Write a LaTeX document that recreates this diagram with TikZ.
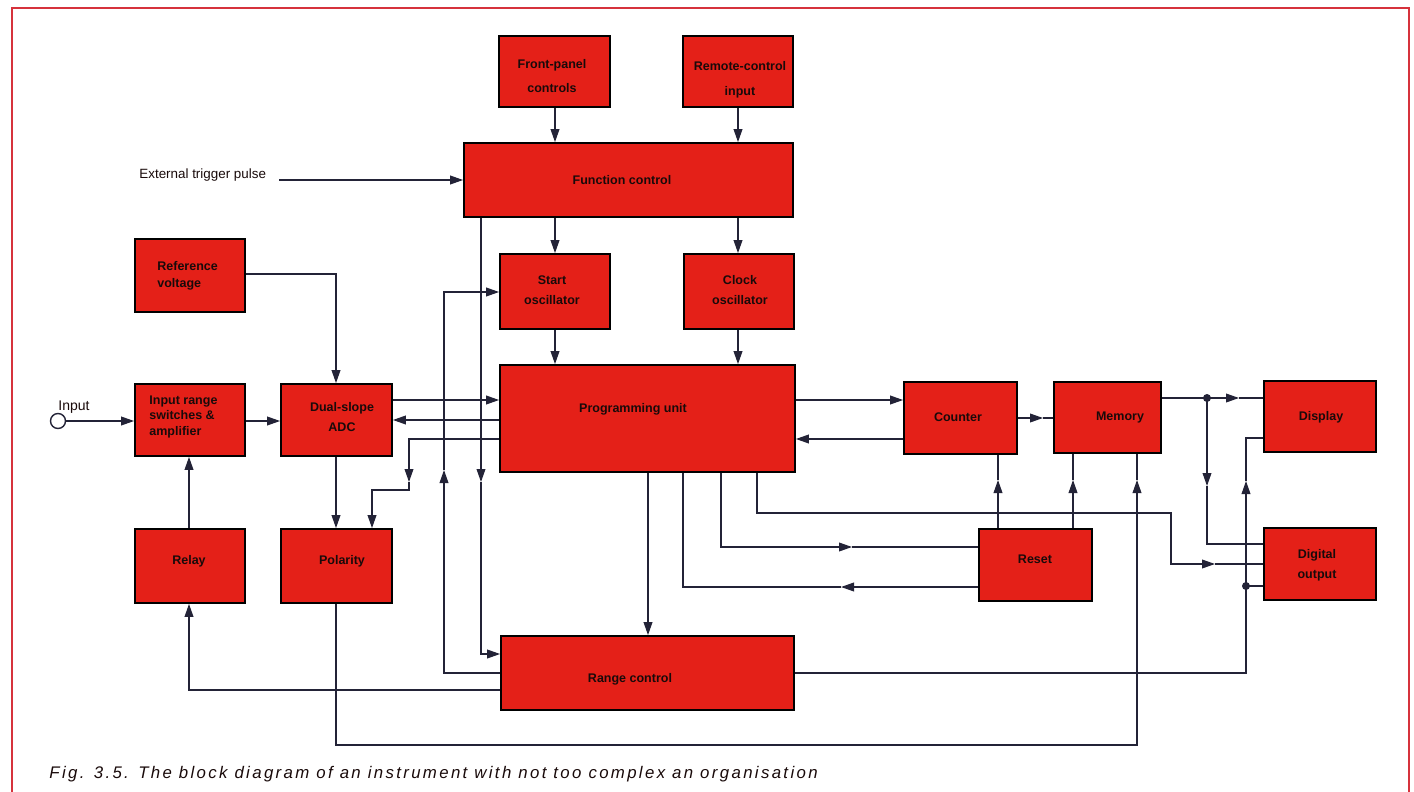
\documentclass[tikz,border=0pt]{standalone}
\usepackage{fontspec}
\setmainfont{Liberation Sans}
\newfontfamily\capfont[LetterSpace=14]{Liberation Sans}
\usetikzlibrary{arrows.meta,fit}
\definecolor{boxred}{RGB}{228,32,24}
\definecolor{wire}{RGB}{35,35,55}
\definecolor{framered}{RGB}{214,50,60}
\definecolor{ink}{RGB}{25,10,10}
\newcommand\mybox[5]{\coordinate (#1-a) at (#2,#3); \coordinate (#1-b) at (#4,#5); \node[box, fit=(#1-a)(#1-b)] (#1) {};}
\begin{document}
\begin{tikzpicture}[x=0.5pt,y=-0.5pt,
 box/.style={draw=black, fill=boxred, line width=0.9pt, inner sep=0pt},
 lbl/.style={font=\bfseries\fontsize{6.25}{10}\selectfont, text=ink, align=center, inner sep=0pt},
 ln/.style={draw=wire, line width=0.6pt},
 arr/.style={-{Triangle[length=6.5pt,width=4.4pt]}},
 dotj/.style={fill=wire},
]
\useasboundingbox[fill=white] (0,0) rectangle (1414,792);
% frame
\draw[framered, line width=0.8pt] (12,800) -- (12,8) -- (1409,8) -- (1409,800);

% boxes
\mybox{fp}{499}{36}{610}{107}
\mybox{rc}{683}{36}{793}{107}
\mybox{fc}{464}{143}{793}{217}
\mybox{so}{500}{254}{610}{329}
\mybox{co}{684}{254}{794}{329}
\mybox{pu}{500}{365}{795}{472}
\mybox{ref}{135}{239}{245}{312}
\mybox{inr}{135}{384}{245}{456}
\mybox{adc}{281}{384}{392}{456}
\mybox{relay}{135}{529}{245}{603}
\mybox{pol}{281}{529}{392}{603}
\mybox{rng}{501}{636}{794}{710}
\mybox{cnt}{904}{382}{1017}{454}
\mybox{mem}{1054}{382}{1161}{453}
\mybox{disp}{1264}{381}{1376}{452}
\mybox{dout}{1264}{528}{1376}{600}
\mybox{reset}{979}{529}{1092}{601}

% box texts
\node[lbl, font=\bfseries\fontsize{6.25}{12}\selectfont] (fp-t) at (552,76) {Front-panel\\controls};
\node[lbl, font=\bfseries\fontsize{6.25}{12.5}\selectfont] (rc-t) at (740,79.5) {Remote-control\\input};
\node[lbl] (fc-t) at (622,180) {Function control};
\node[lbl] (so-t) at (552,290) {Start\\oscillator};
\node[lbl] (co-t) at (740,290) {Clock\\oscillator};
\node[lbl, align=left, anchor=west, font=\bfseries\fontsize{6.25}{8.5}\selectfont] (ref-t) at (157,275.5) {Reference\\voltage};
\node[lbl, align=left, anchor=west, font=\bfseries\fontsize{6.25}{7.75}\selectfont] (inr-t) at (149,416.5) {Input range\\switches \&\\amplifier};
\node[lbl] (adc-t) at (342,417) {Dual-slope\\ADC};
\node[lbl] (relay-t) at (189,561) {Relay};
\node[lbl] (pol-t) at (342,561) {Polarity};
\node[lbl] (pu-t) at (633,409) {Programming unit};
\node[lbl] (rng-t) at (630,679) {Range control};
\node[lbl] (cnt-t) at (958,417) {Counter};
\node[lbl] (mem-t) at (1120,417) {Memory};
\node[lbl] (disp-t) at (1321,417) {Display};
\node[lbl] (reset-t) at (1035,559) {Reset};
\node[lbl] (dout-t) at (1317,565) {Digital\\output};

% free texts
\node[anchor=base west, inner sep=0pt, font=\fontsize{6.7}{8}\selectfont, text=ink] (ext-t) at (139,178) {External trigger pulse};
\node[anchor=base west, inner sep=0pt, font=\fontsize{7}{8}\selectfont, text=ink] (inp-t) at (58,410) {Input};
\node[anchor=base west, inner sep=0pt, font=\capfont\itshape\fontsize{8.4}{10}\selectfont, text=ink] (cap) at (49,778) {Fig. 3.5. The block diagram of an instrument with not too complex an organisation};

% input terminal
\node[draw=wire, line width=0.7pt, circle, minimum size=7.5pt, inner sep=0pt, fill=white] (inp) at (58,421) {};

% connectors
\coordinate (ext) at (279,180);
\draw[ln,arr] (ext) -- (fc.west |- ext);
\draw[ln,arr] (555,0 |- fp.south) -- (555,0 |- fc.north);
\draw[ln,arr] (738,0 |- rc.south) -- (738,0 |- fc.north);
\draw[ln,arr] (555,0 |- fc.south) -- (555,0 |- so.north);
\draw[ln,arr] (738,0 |- fc.south) -- (738,0 |- co.north);
\draw[ln,arr] (555,0 |- so.south) -- (555,0 |- pu.north);
\draw[ln,arr] (738,0 |- co.south) -- (738,0 |- pu.north);

\draw[ln,arr] (ref.east |- 0,274) -| (336,0 |- adc.north);
\draw[ln,arr] (inp.east) -- (inr.west |- inp.east);
\draw[ln,arr] (inr.east |- 0,421) -- (adc.west |- 0,421);
\draw[ln,arr] (adc.east |- 0,400) -- (pu.west |- 0,400);
\draw[ln,arr] (pu.west |- 0,420) -- (adc.east |- 0,420);
\coordinate (pp1) at (409,482);
\draw[ln,arr] (pu.west |- 0,439) -| (pp1);
\draw[ln,arr] (pp1) -- (409,490) -| (372,0 |- pol.north);
\draw[ln,arr] (336,0 |- adc.south) -- (336,0 |- pol.north);
\draw[ln,arr] (189,0 |- relay.north) -- (189,0 |- inr.south);
\draw[ln,arr] (rng.west |- 0,690) -| (189,0 |- relay.south);

\coordinate (pm) at (1137,480);
\draw[ln,arr] (336,0 |- pol.south) |- (1137,745) -- (pm);
\draw[ln] (pm) -- (1137,0 |- mem.south);

\coordinate (rs) at (444,470);
\draw[ln,arr] (rng.west |- 0,673) -| (rs);
\draw[ln,arr] (rs) |- (so.west |- 0,292);
\coordinate (fr) at (481,482);
\draw[ln,arr] (481,0 |- fc.south) -- (fr);
\draw[ln,arr] (fr) |- (rng.west |- 0,654);
\draw[ln,arr] (648,0 |- pu.south) -- (648,0 |- rng.north);

\coordinate (rp) at (841,587);
\draw[ln,arr] (reset.west |- rp) -- (rp);
\draw[ln] (rp) -| (683,0 |- pu.south);
\coordinate (pr) at (852,547);
\draw[ln,arr] (721,0 |- pu.south) |- (pr);
\draw[ln] (pr) -- (reset.west |- pr);
\coordinate (pd) at (1215,564);
\draw[ln,arr] (757,0 |- pu.south) |- (1171,513) |- (pd);
\draw[ln] (pd) -- (dout.west |- pd);

\draw[ln,arr] (pu.east |- 0,400) -- (cnt.west |- 0,400);
\draw[ln,arr] (cnt.west |- 0,439) -- (pu.east |- 0,439);
\coordinate (cm) at (1043,418);
\draw[ln,arr] (cnt.east |- cm) -- (cm);
\draw[ln] (cm) -- (mem.west |- cm);
\coordinate (rc1) at (998,480);
\draw[ln,arr] (998,0 |- reset.north) -- (rc1);
\draw[ln] (rc1) -- (998,0 |- cnt.south);
\coordinate (rm1) at (1073,480);
\draw[ln,arr] (1073,0 |- reset.north) -- (rm1);
\draw[ln] (rm1) -- (1073,0 |- mem.south);

\coordinate (j1) at (1207,398);
\coordinate (md) at (1239,398);
\draw[ln,arr] (mem.east |- j1) -- (md);
\draw[ln] (md) -- (disp.west |- md);
\coordinate (jd) at (1207,486);
\draw[ln,arr] (j1) -- (jd);
\draw[ln] (jd) |- (dout.west |- 0,544);
\fill[dotj] (j1) circle (2pt);

\coordinate (ru) at (1246,481);
\draw[ln,arr] (rng.east |- 0,673) -| (ru);
\draw[ln] (ru) |- (disp.west |- 0,438);
\coordinate (j2) at (1246,586);
\draw[ln] (j2) -- (dout.west |- j2);
\fill[dotj] (j2) circle (2pt);
\end{tikzpicture}
\end{document}
